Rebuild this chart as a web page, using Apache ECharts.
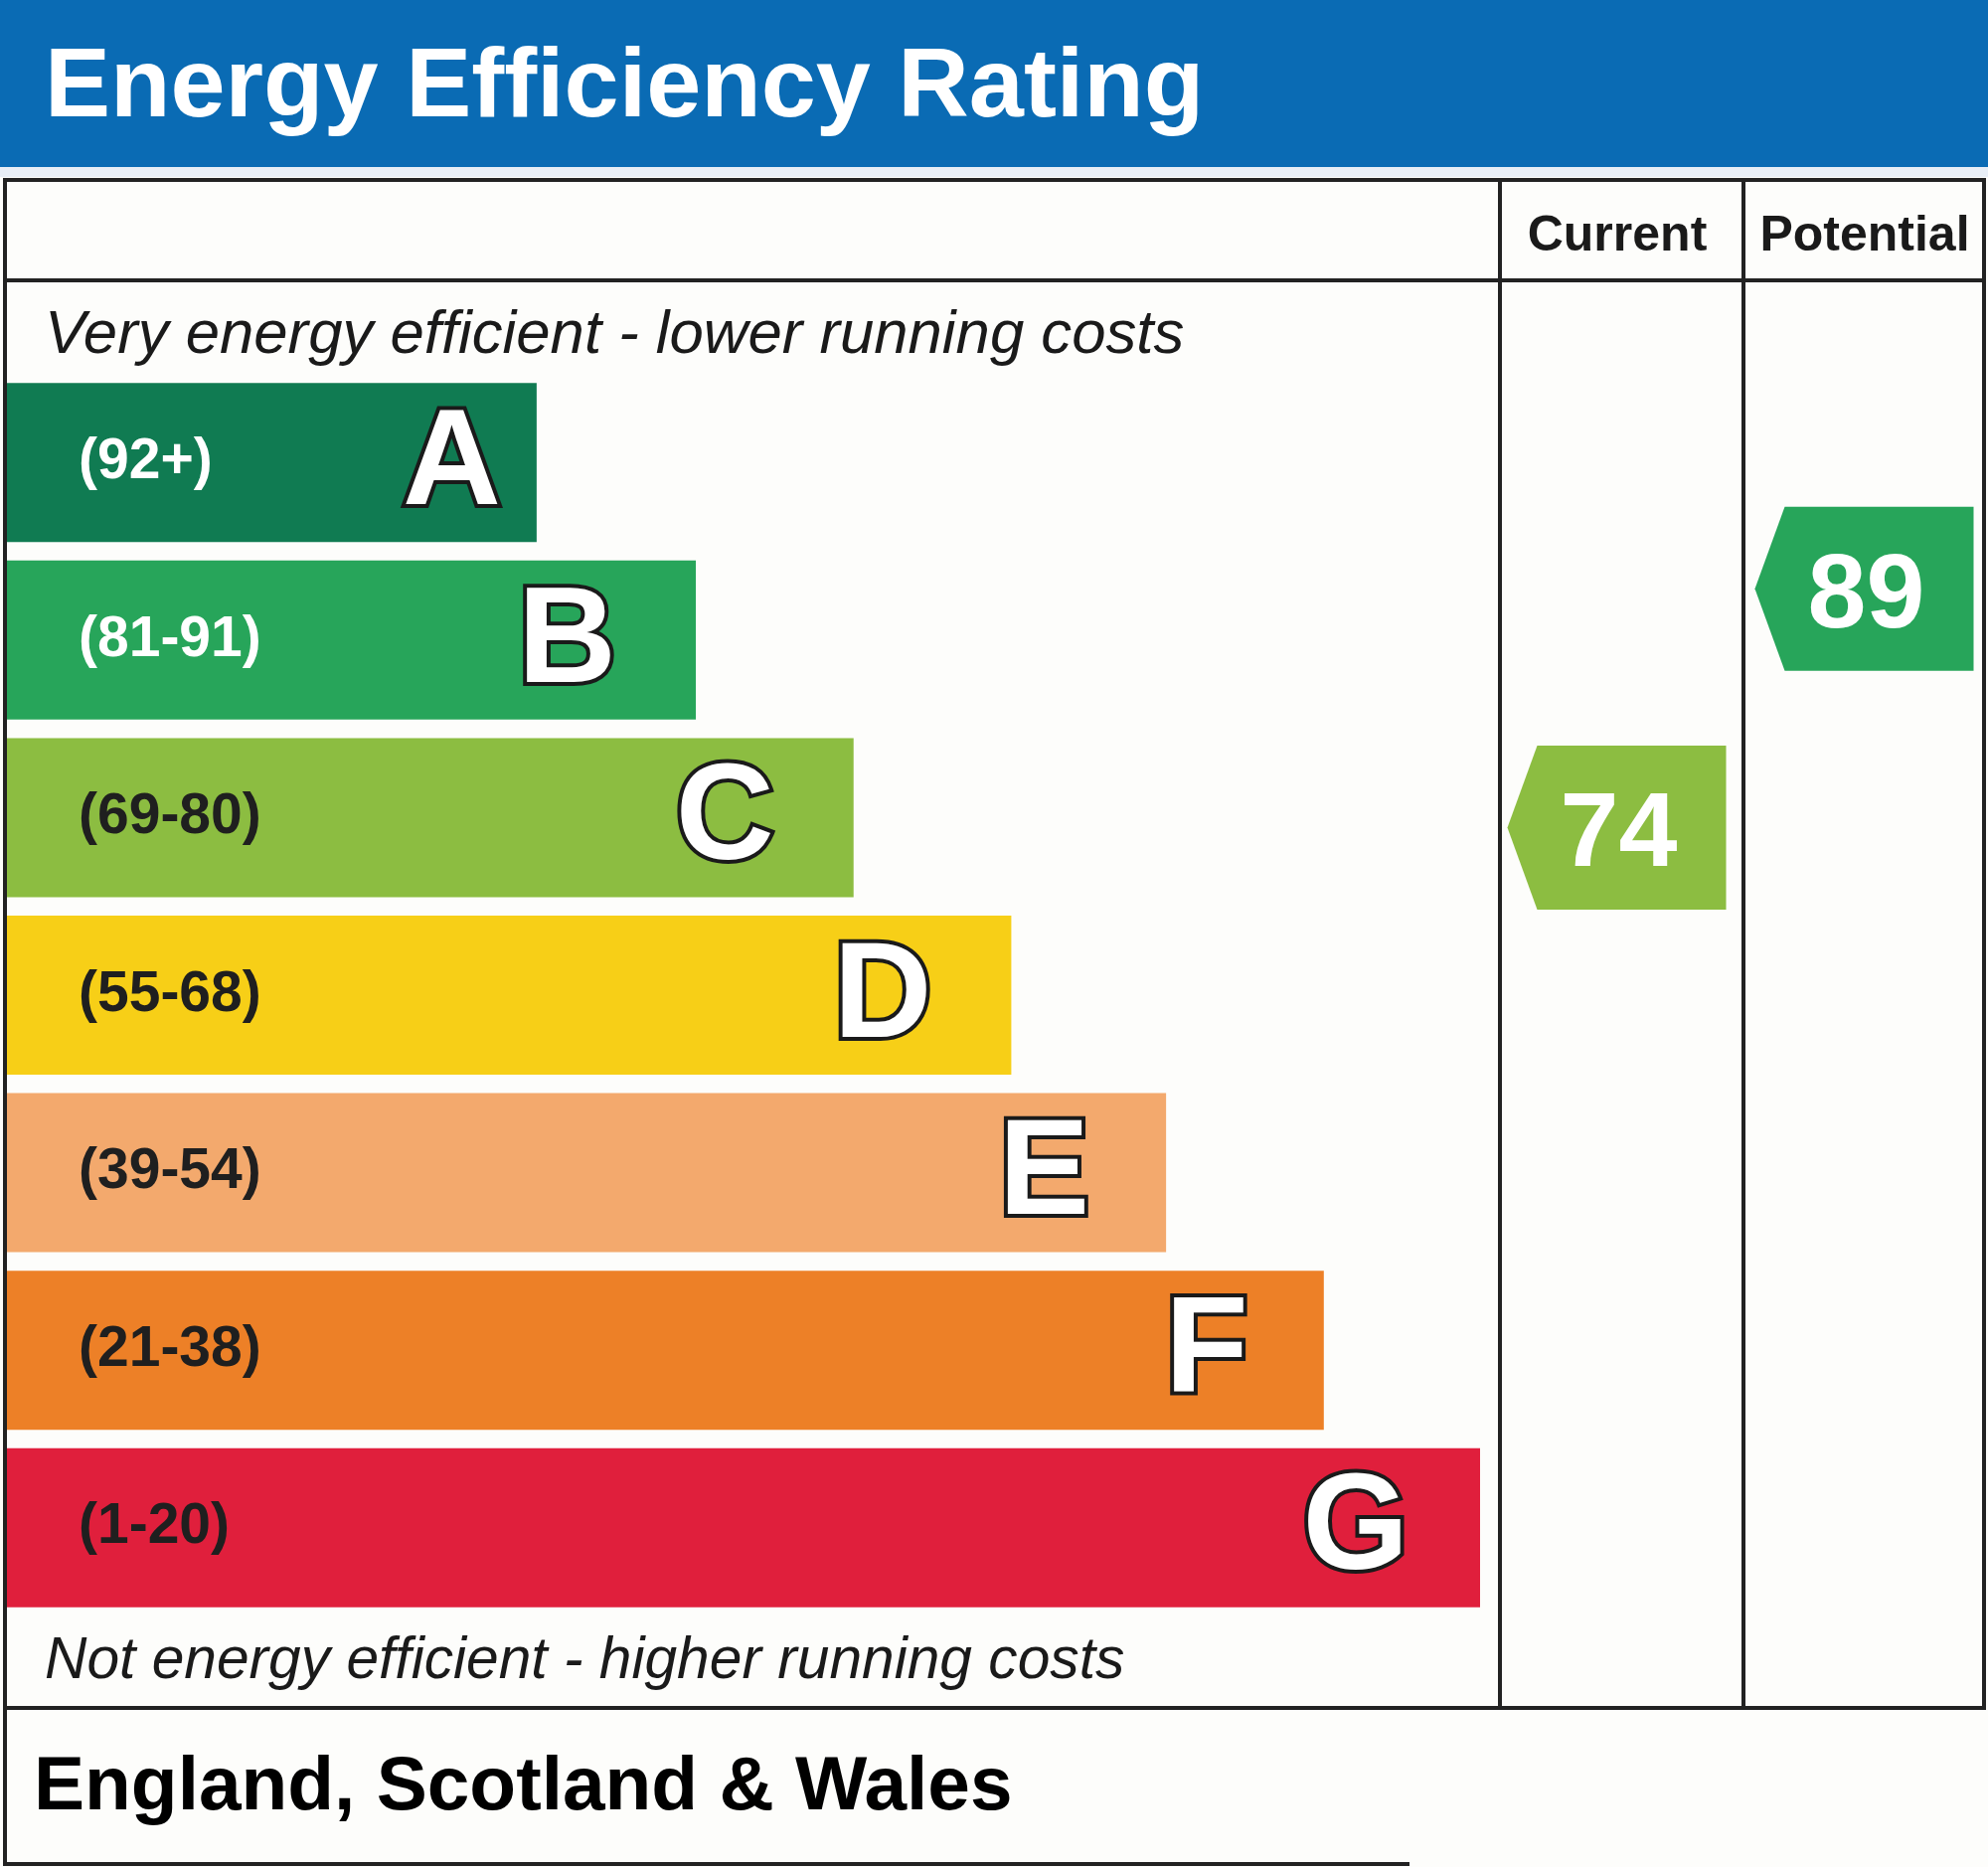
<!DOCTYPE html>
<html>
<head>
<meta charset="utf-8">
<script src="https://cdn.jsdelivr.net/npm/echarts@6/dist/echarts.min.js"></script>
<style>
html,body{margin:0;padding:0;background:#fdfdfb;}
#main{width:2000px;height:1878px;}
</style>
</head>
<body>
<div id="main"></div>
<script>
// ---- data ----
var bands = ['A', 'B', 'C', 'D', 'E', 'F', 'G'];
var rangeLabels = ['(92+)', '(81-91)', '(69-80)', '(55-68)', '(39-54)', '(21-38)', '(1-20)'];
var rangeLow = [92, 81, 69, 55, 39, 21, 1];
var rangeHigh = [100, 91, 80, 68, 54, 38, 20];
var barLengths = [36.0, 46.8, 57.5, 68.2, 78.7, 89.4, 100];
var bandColors = ['#107b52', '#27a55a', '#8cbd41', '#f7cf17', '#f3a96d', '#ed8027', '#e01f3c'];
var columns = ['Current', 'Potential'];
var ratings = [74, 89];

var FONT = '"Liberation Sans", Arial, sans-serif';

function bandOf(r) {
  for (var i = 0; i < bands.length; i++) {
    if (r >= rangeLow[i]) return i;
  }
  return bands.length - 1;
}

var arrowData = ratings.map(function (r, ci) {
  var b = bandOf(r);
  var frac = (r - rangeLow[b]) / (rangeHigh[b] - rangeLow[b]);
  return [ci, b, frac, r, bandColors[b]];
});

var letterDistance = [36, 80, 80, 80, 77, 76, 72];

var chart = echarts.init(document.getElementById('main'), null, {renderer: 'canvas'});

function ln(x1, y1, x2, y2, w) {
  return {type: 'line', shape: {x1: x1, y1: y1, x2: x2, y2: y2}, style: {stroke: '#222', lineWidth: w || 4}, z: 10};
}
function txt(t, x, y, font, align, fill) {
  return {type: 'text', x: x, y: y, style: {text: t, font: font, textAlign: align || 'left', textVerticalAlign: 'middle', fill: fill || '#1a1a1a'}, z: 11};
}

var option = {
  backgroundColor: '#fdfdfb',
  animation: false,
  grid: [
    {left: 6, top: 376, width: 1483, height: 1250},
    {left: 1502, top: 376, width: 500, height: 1250}
  ],
  xAxis: [
    {type: 'value', gridIndex: 0, min: 0, max: 100, show: false},
    {type: 'category', gridIndex: 1, data: columns, show: false}
  ],
  yAxis: [
    {type: 'category', gridIndex: 0, data: bands, inverse: true, show: false},
    {type: 'category', gridIndex: 1, data: bands, inverse: true, show: false}
  ],
  graphic: [
    {type: 'rect', shape: {x: 0, y: 0, width: 2000, height: 168}, style: {fill: '#0a6bb4'}, z: 5},
    {type: 'rect', shape: {x: 0, y: 168, width: 2000, height: 10}, style: {fill: '#e8eef6'}, z: 5},
    txt('Energy Efficiency Rating', 45, 90, 'bold 99px ' + FONT, 'left', '#ffffff'),
    ln(3, 181, 1998, 181),
    ln(5, 179, 5, 1877),
    ln(1996, 179, 1996, 1719),
    ln(1509, 179, 1509, 1719),
    ln(1754, 179, 1754, 1719),
    ln(5, 282, 1996, 282),
    ln(3, 1718, 1998, 1718),
    ln(3, 1875, 1418, 1875),
    txt('Current', 1627, 238, 'bold 50px ' + FONT, 'center'),
    txt('Potential', 1876, 238, 'bold 50px ' + FONT, 'center'),
    txt('Very energy efficient - lower running costs', 45, 338, 'italic 61.7px ' + FONT, 'left'),
    txt('Not energy efficient - higher running costs', 45, 1672, 'italic 58.7px ' + FONT, 'left'),
    txt('England, Scotland & Wales', 34, 1799, 'bold 76.6px ' + FONT, 'left', '#000')
  ],
  series: [
    {
      type: 'bar',
      xAxisIndex: 0, yAxisIndex: 0,
      barWidth: 160,
      data: barLengths.map(function (v, i) {
        return {
          value: v,
          itemStyle: {color: bandColors[i]},
          label: {color: i < 2 ? '#ffffff' : '#1f1f1f'}
        };
      }),
      label: {
        show: true,
        position: 'insideLeft',
        distance: 73,
        fontFamily: FONT,
        fontWeight: 'bold',
        fontSize: 57,
        formatter: function (p) { return rangeLabels[p.dataIndex]; }
      }
    },
    {
      type: 'bar',
      xAxisIndex: 0, yAxisIndex: 0,
      barWidth: 160,
      barGap: '-100%',
      itemStyle: {color: 'rgba(0,0,0,0)'},
      data: barLengths.map(function (v, i) {
        return {value: v, label: {distance: letterDistance[i]}};
      }),
      label: {
        show: true,
        position: 'insideRight',
        offset: [0, 4],
        fontFamily: FONT,
        fontWeight: 'bold',
        fontSize: 137,
        color: '#ffffff',
        textBorderColor: '#1a1a1a',
        textBorderWidth: 8,
        formatter: function (p) { return bands[p.dataIndex]; }
      }
    },
    {
      type: 'custom',
      xAxisIndex: 1, yAxisIndex: 1,
      data: arrowData,
      renderItem: function (params, api) {
        var d = arrowData[params.dataIndex];
        var c = api.coord([api.value(0), api.value(1)]);
        var pitch = api.size([0, 1])[1];
        var cy = c[1] + (0.5 - api.value(2)) * pitch + 2;
        var cx = c[0];
        var w = 220, h = 165, tip = 30;
        var x0 = cx - w / 2;
        return {
          type: 'group',
          children: [
            {type: 'polygon', shape: {points: [[x0, cy], [x0 + tip, cy - h / 2], [x0 + w, cy - h / 2], [x0 + w, cy + h / 2], [x0 + tip, cy + h / 2]]}, style: {fill: d[4]}},
            {type: 'text', x: cx + 2, y: cy + 9, style: {text: String(d[3]), font: 'bold 106px ' + FONT, textAlign: 'center', textVerticalAlign: 'middle', fill: '#ffffff'}}
          ]
        };
      }
    }
  ]
};
chart.setOption(option);
</script>
</body>
</html>
